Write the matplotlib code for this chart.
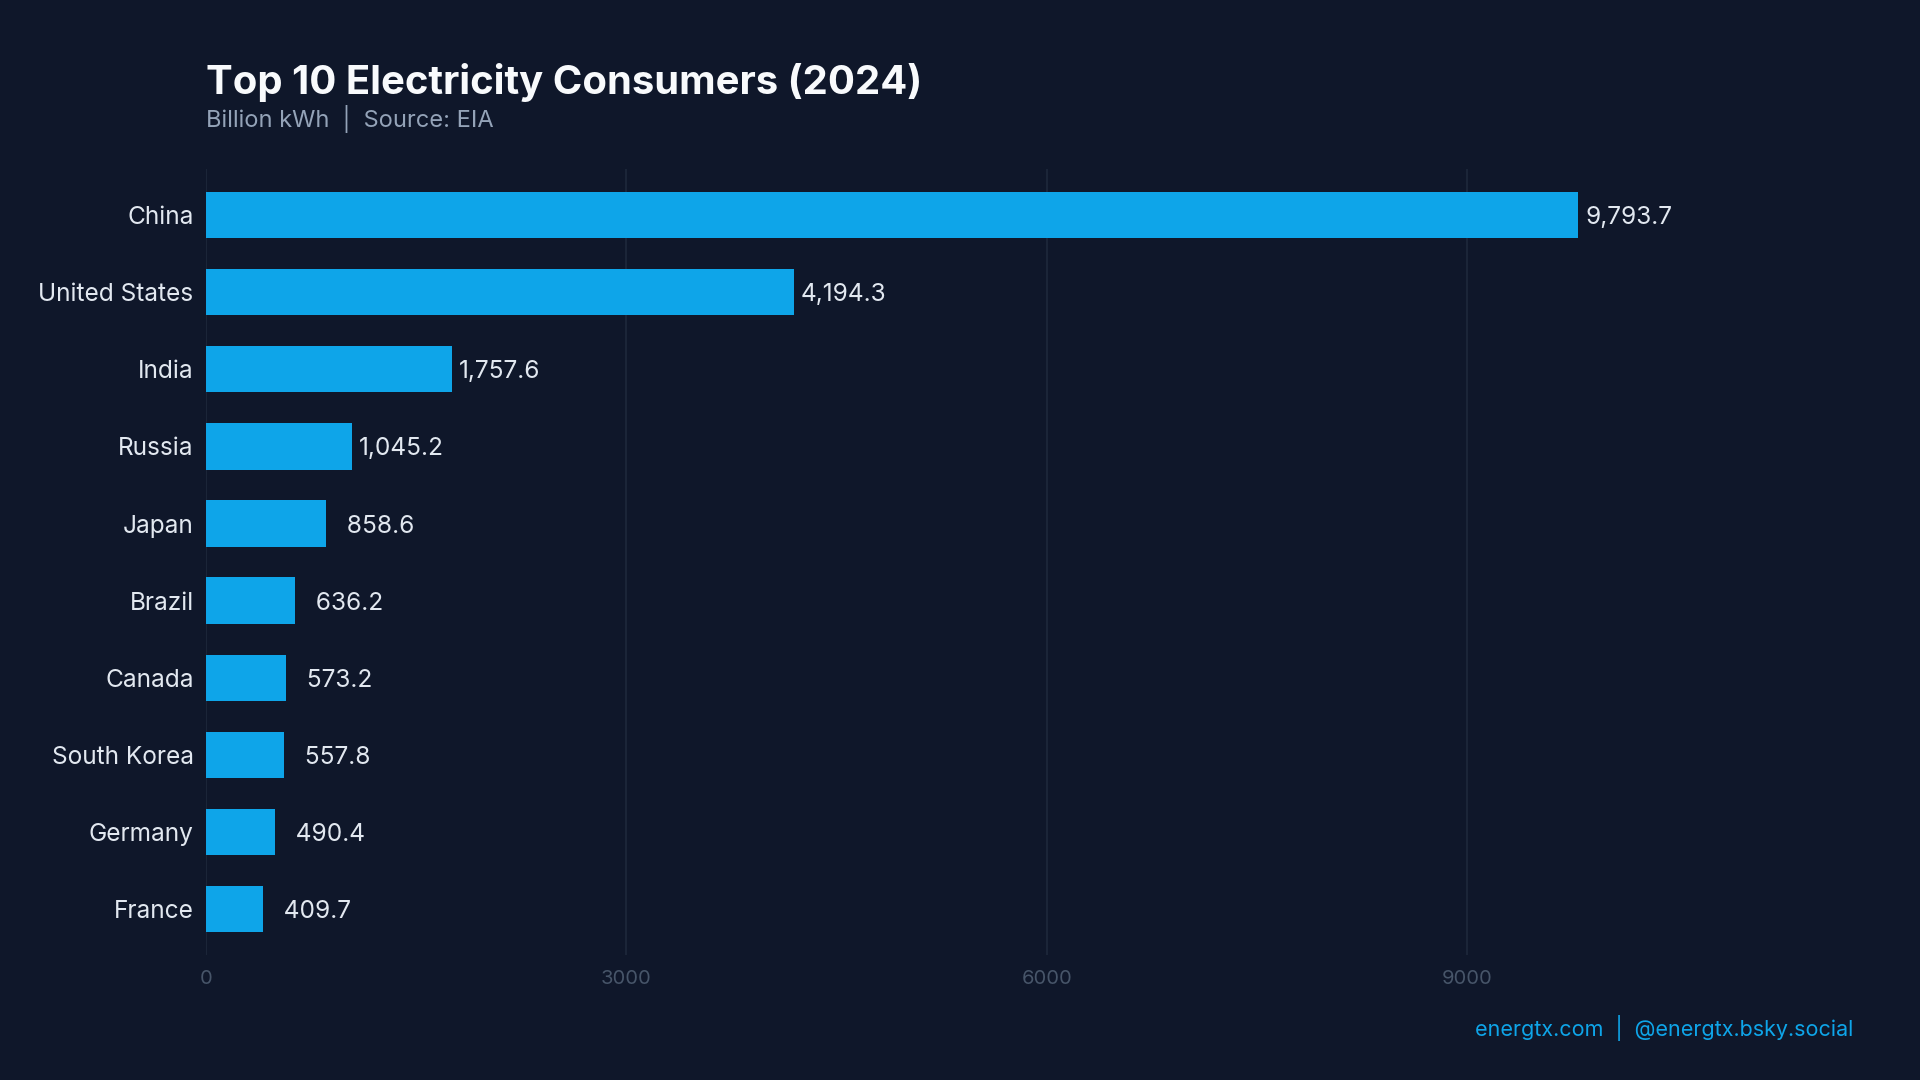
import numpy as np
import matplotlib.pyplot as plt

countries = ['China', 'United States', 'India', 'Russia', 'Japan',
             'Brazil', 'Canada', 'South Korea', 'Germany', 'France']
consumption = [9793.7, 4194.3, 1757.6, 1045.2, 858.6,
               636.2, 573.2, 557.8, 490.4, 409.7]
xticks = [0, 3000, 6000, 9000]

bg = '#0f172a'
bar_color = '#0ea5e9'

plt.rcParams['font.family'] = ['Inter', 'DejaVu Sans']

fig = plt.figure(figsize=(19.2, 10.8), dpi=100, facecolor=bg)
ax = fig.add_axes([0.1073, 0.1157, 0.8578, 0.7278], facecolor=bg)

y = np.arange(len(countries))
ax.barh(y, consumption, height=0.6, color=bar_color, zorder=3)

vmax = max(consumption)
for yi, v in zip(y, consumption):
    ax.text(v + vmax * 0.005, yi, f"{v:7,.1f}", va='center_baseline', ha='left',
            fontsize=17.6, color='#e2e8f0', zorder=4)

ax.set_xlim(0, vmax * 1.2)
ax.set_ylim(9.6, -0.6)
ax.set_yticks(y)
ax.set_yticklabels(countries, fontsize=17.6, color='#e2e8f0')
ax.set_xticks(xticks)
ax.set_xticklabels([str(t) for t in xticks], fontsize=14.5, color='#475569')
ax.tick_params(axis='y', length=0, pad=9)
ax.tick_params(axis='x', length=0, pad=11)
ax.grid(axis='x', color='#1e293b', linewidth=1.2, zorder=0)
ax.grid(axis='y', visible=False)
for s in ax.spines.values():
    s.set_visible(False)

fig.text(0.1073, 0.913, 'Top 10 Electricity Consumers (2024)', fontsize=28.8,
         fontweight='bold', color='#f8fafc', ha='left', va='baseline')
fig.text(0.1073, 0.8824, 'Billion kWh  |  Source: EIA', fontsize=17,
         color='#94a3b8', ha='left', va='baseline')
fig.text(0.9655, 0.048, 'energtx.com  |  @energtx.bsky.social', fontsize=15.5,
         color=bar_color, ha='right', va='center')

fig.savefig('out.png', dpi=100, facecolor=bg)
